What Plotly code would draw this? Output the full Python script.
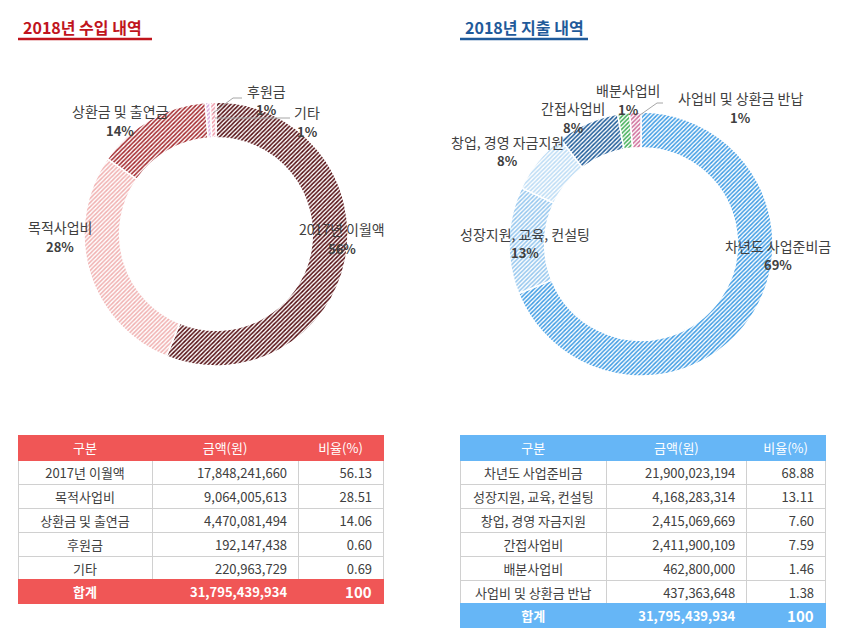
"""
2018년 수입/지출 내역: 도넛 차트 2개 + 하단 요약 표
"""

import plotly.graph_objects as go

# ─────────────────────────────────────────────
# 데이터
# ─────────────────────────────────────────────

IN_TITLE = "2018년 수입 내역"
IN_LABELS = ["2017년 이월액", "목적사업비", "상환금 및 출연금", "후원금", "기타"]
IN_AMOUNTS = [17848241660, 9064005613, 4470081494, 192147438, 220963729]
IN_RATIOS = [56.13, 28.51, 14.06, 0.60, 0.69]
IN_PIE_PCT = [56, 28, 14, 1, 1]          # 차트에 표시된 반올림 비율

OUT_TITLE = "2018년 지출 내역"
OUT_LABELS = ["차년도 사업준비금", "성장지원, 교육, 컨설팅", "창업, 경영 자금지원",
              "간접사업비", "배분사업비", "사업비 및 상환금 반납"]
OUT_AMOUNTS = [21900023194, 4168283314, 2415069669, 2411900109, 462800000, 437363648]
OUT_RATIOS = [68.88, 13.11, 7.60, 7.59, 1.46, 1.38]
OUT_PIE_PCT = [69, 13, 8, 8, 1, 1]

TABLE_HEADER = ["구분", "금액(원)", "비율(%)"]
TOTAL_LABEL = "합계"

# ─────────────────────────────────────────────
# 스타일
# ─────────────────────────────────────────────

W, H = 843, 633
FONT = "Noto Sans CJK KR"
TEXT_COLOR = "#404040"
NB = "\u00a0"

IN_HATCH = ["#520a0e", "#f0b0b0", "#a3262b", "#d9a6dc", "#f09aaa"]
OUT_HATCH = ["#3d9be3", "#94c6ee", "#bcdcf5", "#1c5a98", "#3fae55", "#cf6d9a"]

IN_MAIN, OUT_MAIN = "#c0141c", "#1f5a9a"
IN_HEAD, OUT_HEAD = "#f05656", "#66b6f6"

TABLE_TOP, HEAD_H, ROW_H = 435, 25, 24

# 라벨 위치(픽셀, 이름 줄 중심) — 엑셀 원본 배치를 따름
IN_LABEL_XY = [(342, 229), (60, 227), (120, 111), (266, 91), (307, 112)]
OUT_LABEL_XY = [(778, 246), (525, 234), (508, 142), (573, 108), (628, 90), (740, 98)]


def px(x):
    return x / W


def py(y):
    return 1 - y / H


def add_donut(fig, labels, values, colors, cx, cy, r):
    """해칭 패턴 도넛 차트 추가 (12시 방향에서 시계방향)"""
    fig.add_trace(go.Pie(
        labels=labels, values=values, sort=False,
        direction="clockwise", rotation=0, hole=0.73,
        textinfo="none", showlegend=False,
        marker=dict(
            colors=colors,
            line=dict(color="white", width=1.5),
            pattern=dict(shape="/", fgcolor=colors, bgcolor="white",
                         size=3, solidity=0.5, fillmode="replace"),
        ),
        domain=dict(x=[px(cx - r), px(cx + r)], y=[py(cy + r), py(cy - r)]),
    ))


def add_labels(fig, labels, pcts, positions):
    for name, pct, (x, y) in zip(labels, pcts, positions):
        fig.add_annotation(x=px(x), y=py(y), xref="paper", yref="paper",
                           xanchor="center", yanchor="middle",
                           text=name, showarrow=False,
                           font=dict(family=FONT, size=14, color=TEXT_COLOR))
        fig.add_annotation(x=px(x), y=py(y + 19), xref="paper", yref="paper",
                           xanchor="center", yanchor="middle",
                           text=f"<b>{pct}%</b>", showarrow=False,
                           font=dict(family=FONT, size=13, color=TEXT_COLOR))


def add_title(fig, text, color, x0, x1):
    fig.add_annotation(x=px(x0 + 3), y=py(27), xref="paper", yref="paper",
                       xanchor="left", yanchor="middle",
                       text=f"<b>{text}</b>", showarrow=False,
                       font=dict(family=FONT, size=16, color=color))
    fig.add_shape(type="line", xref="paper", yref="paper",
                  x0=px(x0), x1=px(x1), y0=py(39), y1=py(39),
                  line=dict(color=color, width=2.5))


def add_table(fig, labels, amounts, ratios, head_color, x0, x1, widths):
    """구분/금액/비율 표 + 합계 행(별도 테이블의 헤더로 굵게 표시)"""
    total = sum(amounts)
    col_label = [s.replace(" ", NB) for s in labels]
    col_amount = [f"{v:,}{NB}" for v in amounts]
    col_ratio = [f"{v:.2f}{NB}" for v in ratios]

    fig.add_trace(go.Table(
        columnwidth=widths,
        header=dict(values=TABLE_HEADER, fill_color=head_color,
                    line_color=head_color, align="center", height=HEAD_H,
                    font=dict(family=FONT, size=13, color="white")),
        cells=dict(values=[col_label, col_amount, col_ratio],
                   fill_color="white", line_color="#d0d0d0",
                   align=["center", "right", "right"], height=ROW_H,
                   font=dict(family=FONT, size=13, color=TEXT_COLOR)),
        domain=dict(x=[px(x0), px(x1)], y=[0, py(TABLE_TOP)]),
    ))

    total_top = TABLE_TOP + HEAD_H + ROW_H * len(labels) - 1
    fig.add_trace(go.Table(
        columnwidth=widths,
        header=dict(values=[TOTAL_LABEL, f"{total:,}{NB}", f"100{NB}"],
                    fill_color=head_color, line_color=head_color,
                    align=["center", "right", "right"], height=ROW_H,
                    font=dict(family=FONT, size=[13, 13, 15], color="white",
                              weight="bold")),
        cells=dict(values=[[], [], []]),
        domain=dict(x=[px(x0), px(x1)], y=[0, py(total_top)]),
    ))


# ─────────────────────────────────────────────
# 그림 구성
# ─────────────────────────────────────────────

fig = go.Figure()

add_donut(fig, IN_LABELS, IN_AMOUNTS, IN_HATCH, 216, 234, 132)
add_donut(fig, OUT_LABELS, OUT_AMOUNTS, OUT_HATCH, 641, 244, 132)

add_labels(fig, IN_LABELS, IN_PIE_PCT, IN_LABEL_XY)
add_labels(fig, OUT_LABELS, OUT_PIE_PCT, OUT_LABEL_XY)

# 작은 조각 지시선
leader = dict(color="#a6a6a6", width=1)
fig.add_shape(type="path", xref="paper", yref="paper", line=leader,
              path=f"M {px(213)} {py(113)} L {px(233)} {py(98)} L {px(242)} {py(98)}")
fig.add_shape(type="line", xref="paper", yref="paper", line=leader,
              x0=px(215), x1=px(290), y0=py(118), y1=py(118))
fig.add_shape(type="path", xref="paper", yref="paper", line=leader,
              path=f"M {px(640)} {py(115)} L {px(657)} {py(103)} L {px(663)} {py(103)}")

add_title(fig, IN_TITLE, IN_MAIN, 18, 152)
add_title(fig, OUT_TITLE, OUT_MAIN, 460, 588)

add_table(fig, IN_LABELS, IN_AMOUNTS, IN_RATIOS, IN_HEAD, 18, 383, [134, 146, 85])
add_table(fig, OUT_LABELS, OUT_AMOUNTS, OUT_RATIOS, OUT_HEAD, 460, 826, [147, 140, 79])

fig.update_layout(
    width=W, height=H,
    margin=dict(l=0, r=0, t=0, b=0),
    paper_bgcolor="white",
    font=dict(family=FONT),
)

# 브라우저 기본 body 여백 제거, 모드바 숨김
fig.write_html("out.html", config={"displayModeBar": False},
               post_script="document.body.style.margin='0';")
